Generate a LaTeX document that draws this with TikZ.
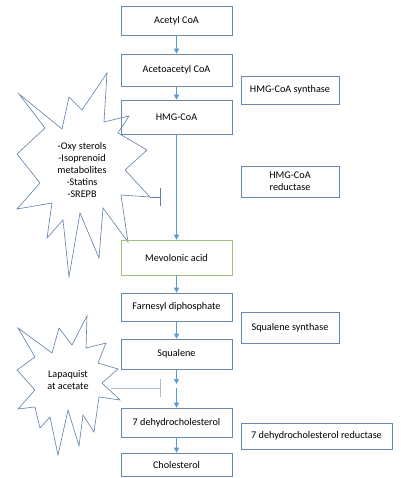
\documentclass[tikz,border=0pt]{standalone}
\usepackage{fontspec}
\setmainfont{Carlito}
\usetikzlibrary{arrows.meta}
\definecolor{boxline}{HTML}{6A88AA}
\definecolor{flow}{HTML}{5B9BD5}
\definecolor{mevgreen}{HTML}{A3C17A}
\definecolor{starline}{HTML}{5F7FA5}
\definecolor{paleline}{HTML}{A9BCCF}
\begin{document}
\begin{tikzpicture}[x=1pt,y=-1pt,
  font=\fontsize{10.2pt}{12.2pt}\selectfont,
  step box/.style={draw=boxline,line width=0.6pt,minimum width=111pt,inner sep=0pt},
  enzyme box/.style={draw=boxline,line width=0.6pt,minimum width=98pt,inner sep=0pt,align=center},
  flow arrow/.style={draw=flow,line width=0.6pt,-{Triangle[length=5pt,width=5pt]}},
  block/.style={line width=0.6pt,-{Bar[width=18pt]}}]
\useasboundingbox (0,0) rectangle (400,478);
% regulators
\draw[draw=starline,line width=0.6pt,fill=white] (107,73) -- (104,122) -- (129,116) -- (118,133)
  -- (147,150) -- (125,170) -- (150,197) -- (121,195) -- (128,242) -- (103,208)
  -- (99,258) -- (80,213) -- (69,277) -- (63,220) -- (47,238) -- (52,203)
  -- (17,209) -- (40,183) -- (17,154) -- (45,128) -- (19,94) -- (62,129)
  -- (69,97) -- (82,110) -- cycle;
\node[align=center] (regtext) at (82,170) {-Oxy sterols\\-Isoprenoid\\metabolites\\-Statins\\-SREPB};
\draw[draw=starline,line width=0.6pt,fill=white] (87,316) -- (86,348) -- (106,343) -- (98,363)
  -- (118,369) -- (102,383) -- (120,400) -- (99,397) -- (94,432) -- (83,415)
  -- (79,446) -- (68,410) -- (58,455) -- (50,417) -- (40,428) -- (35,407)
  -- (18,409) -- (35,390) -- (17,370) -- (35,357) -- (18,328) -- (52,353)
  -- (59,328) -- (72,345) -- cycle;
\node[align=center] (lapaquist) at (68,380) {Lapaquist\\at acetate};
% pathway
\node[step box,minimum height=29pt] (acetyl) at (176.5,20.5) {Acetyl CoA};
\node[step box,minimum height=32pt] (acetoacetyl) at (176.5,70) {Acetoacetyl CoA};
\node[step box,minimum height=34pt] (hmg) at (176.5,117) {HMG-CoA};
\node[step box,draw=mevgreen,minimum height=35pt] (mev) at (176.5,257.5) {Mevolonic acid};
\node[step box,minimum height=28pt] (farnesyl) at (176.5,307) {Farnesyl diphosphate};
\node[step box,minimum height=30pt] (squalene) at (176.5,354) {Squalene};
\node[step box,minimum height=29pt] (dhc) at (176.5,422.5) {7 dehydrocholesterol};
\node[step box,minimum height=23pt] (chol) at (176.5,464.5) {Cholesterol};
% enzymes
\node[enzyme box,minimum height=28pt] (synthase) at (290,90) {HMG-CoA synthase};
\node[enzyme box,minimum height=31pt] (reductase) at (290,181.5) {HMG-CoA\\reductase};
\node[enzyme box,minimum height=31pt] (sqsynth) at (290,327.5) {Squalene synthase};
\node[enzyme box,minimum width=151pt,minimum height=26pt] (dhcred) at (316.5,436) {7 dehydrocholesterol reductase};
% arrows
\draw[flow arrow] (acetyl) -- (acetoacetyl);
\draw[flow arrow] (acetoacetyl) -- (hmg);
\draw[flow arrow] (hmg) -- (mev);
\draw[flow arrow] (mev) -- (farnesyl);
\draw[flow arrow] (farnesyl) -- (squalene);
\coordinate (gaptop) at (176.5,384);
\coordinate (gapbot) at (176.5,388);
\draw[flow arrow] (squalene) -- (gaptop);
\draw[flow arrow] (gapbot) -- (dhc);
\draw[flow arrow] (dhc) -- (chol);
% inhibition
\coordinate (regtip) at (150,197);
\coordinate (regbar) at (161,197);
\draw[block,draw=starline] (regtip) -- (regbar);
\coordinate (laptip) at (111,388);
\coordinate (lapbar) at (161,388);
\draw[block,draw=paleline] (laptip) -- (lapbar);
\end{tikzpicture}
\end{document}
